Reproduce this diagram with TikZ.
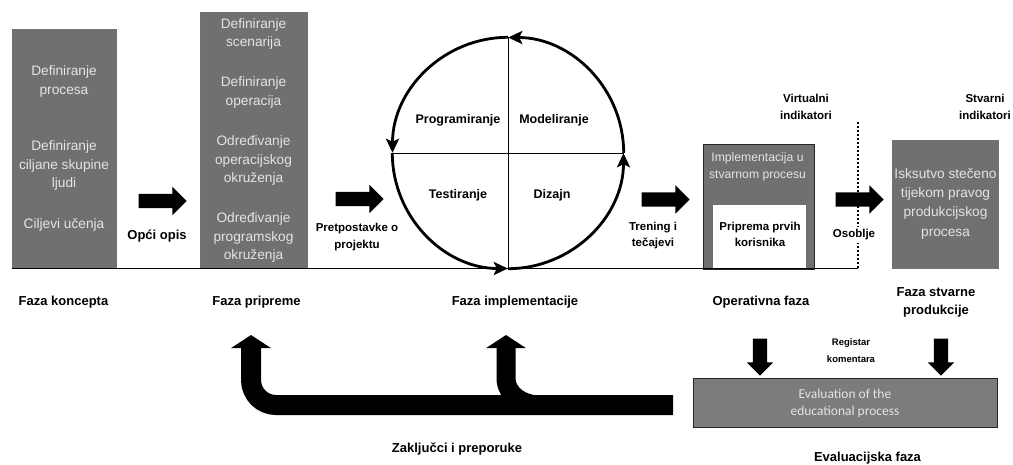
\documentclass[tikz,border=0pt]{standalone}
\usepackage{fontspec}
\setmainfont{Liberation Sans}
\newfontfamily\evalfont{Carlito}
\usepackage{tikz}
\usetikzlibrary{arrows.meta,shapes,positioning}
\definecolor{boxgray}{RGB}{112,112,112}
\definecolor{evalgray}{RGB}{124,124,124}
\definecolor{lighttext}{RGB}{228,228,228}

\begin{document}
\begin{tikzpicture}[x=1pt,y=1pt,
    phasebox/.style={rectangle,fill=boxgray,draw=black!55,line width=0.4pt},
    boxtxt/.style={text=lighttext,align=center,font=\fontsize{13.7}{18.8}\selectfont},
    phaselbl/.style={align=center,font=\bfseries\fontsize{13}{18}\selectfont},
    notelbl/.style={align=center,font=\bfseries\fontsize{11.5}{16.5}\selectfont},
    quadlbl/.style={font=\bfseries\fontsize{12.5}{15}\selectfont},
    blockarr/.style={single arrow,fill=black,inner sep=7pt,minimum height=48pt,
        single arrow head extend=7pt,single arrow head indent=0pt},
    downarr/.style={single arrow,fill=black,inner sep=7pt,shape border rotate=270,
        minimum height=37pt,single arrow head extend=6pt,single arrow head indent=0pt},
    cycarr/.style={line width=2.8pt,-{Stealth[length=14pt,width=13pt,inset=3pt]}},
    fbarr/.style={line width=20pt,-{Triangle[length=13pt,width=39pt]}},
    dotline/.style={line width=2pt,dash pattern=on 2pt off 2pt}]
    \tikzstyle{every node}+=[inner sep=0pt]
    \useasboundingbox (0,0) rectangle (1013,-464);

    \node[phasebox,minimum width=104pt,minimum height=239pt] (konc) at (64,-148.5) {};
    \node[boxtxt] (k1) at (64,-81.5) {Definiranje\\procesa};
    \node[boxtxt] (k2) at (64,-165.5) {Definiranje\\ciljane skupine\\ljudi};
    \node[boxtxt] (k3) at (64,-224.5) {Ciljevi učenja};

    \node[phasebox,minimum width=107pt,minimum height=256pt] (prip) at (253.5,-140) {};
    \node[boxtxt] (p1) at (253.5,-34) {Definiranje\\scenarija};
    \node[boxtxt] (p2) at (253.5,-92.5) {Definiranje\\operacija};
    \node[boxtxt] (p3) at (253.5,-160.5) {Određivanje\\operacijskog\\okruženja};
    \node[boxtxt] (p4) at (253.5,-237.5) {Određivanje\\programskog\\okruženja};

    \node[phasebox,draw=black!85,line width=0.8pt,minimum width=111pt,minimum height=125pt] (oper) at (758.5,-206.5) {};
    \node[boxtxt,font=\fontsize{12.2}{16.5}\selectfont] (impl) at (757.5,-167) {Implementacija u\\stvarnom procesu};
    \node[fill=white,minimum width=93pt,minimum height=64pt] (korisn) at (759.5,-237) {};
    \node[notelbl] (korisntxt) at (760,-234.5) {Priprema prvih\\korisnika};

    \node[phasebox,minimum width=106pt,minimum height=128pt] (stvar) at (945,-204) {};
    \node[boxtxt,font=\fontsize{13.7}{19.3}\selectfont] (stvartxt) at (945.5,-203.5) {Isksutvo stečeno\\tijekom pravog\\produkcijskog\\procesa};

    \node[phasebox,fill=evalgray,draw=black!85,line width=0.8pt,minimum width=304pt,minimum height=49pt] (eval) at (845,-402.5) {};
    \node[text=lighttext,align=center,font=\evalfont\fontsize{13.5}{17}\selectfont] (evaltxt) at (845,-403) {Evaluation of the\\educational process};

    \coordinate (dottop) at (858,-122);
    \coordinate (dotbot) at (858,-269);
    \draw[dotline] (dottop) -- (dotbot);
    \draw[line width=1pt] (konc.south west) -- (konc.south west -| dotbot);

    \node[blockarr] (a1) at (159,-201) {};
    \node[blockarr] (a2) at (356,-199) {};
    \node[blockarr] (a3) at (662,-199.5) {};
    \node[blockarr] (a4) at (856,-199.5) {};
    \node[downarr] (d1) at (760,-353.5) {};
    \node[downarr] (d2) at (941,-353.5) {};

    \node[phaselbl] (opis) at (157,-236.5) {Opći opis};
    \node[notelbl] (pretp) at (357,-237) {Pretpostavke o\\projektu};
    \node[notelbl] (tren) at (653,-235.5) {Trening i\\tečajevi};
    \node[notelbl,fill=white,inner ysep=3pt,inner xsep=1pt] (osob) at (854,-235) {Osoblje};
    \node[notelbl] (virt) at (806,-107) {Virtualni\\indikatori};
    \node[notelbl] (stvind) at (985,-107) {Stvarni\\indikatori};
    \node[align=center,font=\bfseries\fontsize{9.5}{17}\selectfont] (regist) at (851,-351) {Registar\\komentara};

    \node[circle,minimum size=231pt] (cyc) at (508,-153) {};
    \draw[line width=0.9pt] (cyc.north) -- (cyc.south);
    \draw[line width=0.9pt] (cyc.west) -- (cyc.east);
    \draw[cycarr] (cyc.east) arc[start angle=0,end angle=90,radius=115.5pt];
    \draw[cycarr] (cyc.north) arc[start angle=90,end angle=180,radius=115.5pt];
    \draw[cycarr] (cyc.west) arc[start angle=180,end angle=270,radius=115.5pt];
    \draw[cycarr] (cyc.south) arc[start angle=270,end angle=360,radius=115.5pt];
    \node[quadlbl] (progr) at (458,-120) {Programiranje};
    \node[quadlbl] (model) at (554,-120) {Modeliranje};
    \node[quadlbl] (testir) at (458,-195) {Testiranje};
    \node[quadlbl] (dizajn) at (552,-195) {Dizajn};

    \node[phaselbl] (fkonc) at (63.5,-302) {Faza koncepta};
    \node[phaselbl] (fprip) at (256.5,-302) {Faza pripreme};
    \node[phaselbl] (fimpl) at (515,-302) {Faza implementacije};
    \node[phaselbl] (foper) at (761,-302) {Operativna faza};
    \node[phaselbl] (fstvar) at (936,-302) {Faza stvarne\\produkcije};
    \node[phaselbl] (zaklj) at (457,-449) {Zaključci i preporuke};
    \node[phaselbl] (fevalu) at (867.5,-458) {Evaluacijska faza};

    \coordinate (fbstart) at (673,-405);
    \coordinate (fbjoin) at (540,-405);
    \coordinate (fbbend) at (506,-378);
    \coordinate (fbtip1) at (251,-335);
    \coordinate (fbtip2) at (506,-335);
    \draw[fbarr,rounded corners=25pt] (fbstart) -| (fbtip1);
    \draw[fbarr,line width=19pt] (fbjoin) to[out=180,in=-90] (fbbend) -- (fbtip2);
\end{tikzpicture}
\end{document}
